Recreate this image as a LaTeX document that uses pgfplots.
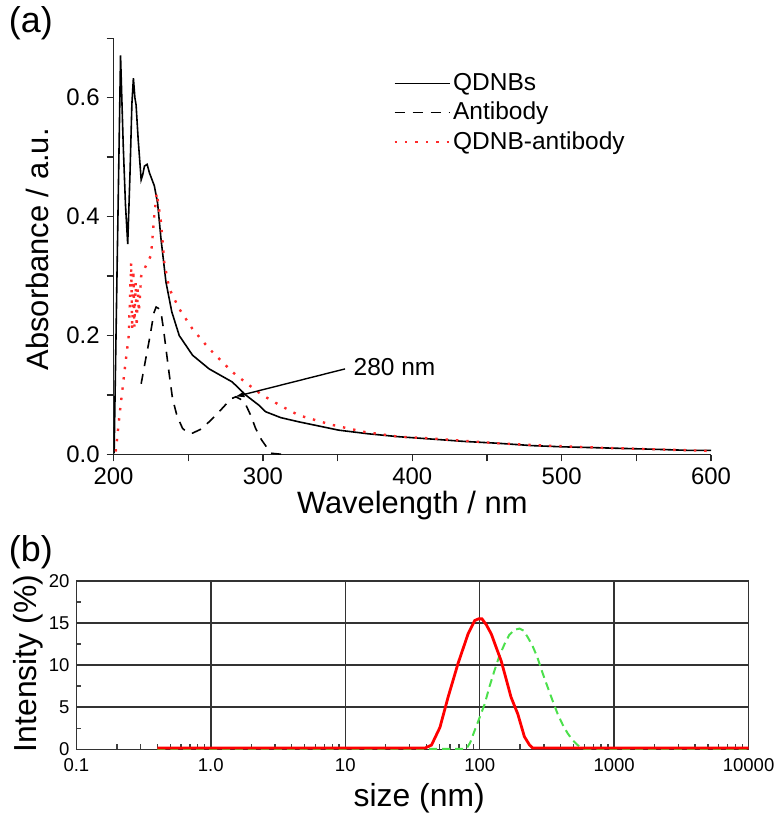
\documentclass[border=0pt]{standalone}
\usepackage{fontspec}
\setmainfont{Liberation Sans}
\usepackage{pgfplots}
\pgfplotsset{compat=1.18}
\usetikzlibrary{arrows.meta}
\definecolor{dotred}{HTML}{FF2A2A}
\definecolor{dlsred}{HTML}{FF0000}
\definecolor{dlsgreen}{HTML}{4CE04C}
\newcommand{\fs}[1]{\fontsize{#1}{1.2\dimexpr#1\relax}\selectfont}

\begin{document}
\begin{tikzpicture}
\path (0,0) rectangle (390.5bp,410.5bp);
\node[font=\fs{18bp}] at (15.5bp,400.5bp) {(a)};
\node[font=\fs{18bp}] at (15.5bp,135bp) {(b)};

% (a) UV-vis absorbance
\begin{axis}[
  at={(57bp,184bp)}, anchor=south west,
  scale only axis, width=300bp, height=209bp,
  xmin=200, xmax=600, ymin=0, ymax=0.7,
  axis lines*=left, axis line style={line width=0.7bp, black!85},
  tick align=outside, tick style={line width=0.7bp, black!85},
  major tick length=3.5bp, minor tick length=3.5bp,
  xtick={200,300,400,500,600}, minor xtick={250,350,450,550},
  ytick={0,0.2,0.4,0.6}, minor ytick={0.1,0.3,0.5,0.7},
  /pgf/number format/assume math mode=true,
  yticklabel style={/pgf/number format/fixed, /pgf/number format/precision=1,
                    /pgf/number format/fixed zerofill},
  tick label style={font=\fs{12bp}},
  xticklabel style={yshift=0.5bp},
  xlabel={Wavelength / nm}, ylabel={Absorbance / a.u.},
  label style={font=\fs{15.5bp}},
  xlabel style={at={(axis description cs:0.5,-0.122)}, anchor=center},
  ylabel style={at={(axis description cs:-0.128,0.493)}, anchor=center},
  legend style={draw=none, fill=none, at={(axis description cs:0.458,0.932)},
                anchor=north west, font=\fs{12.3bp}, nodes={inner sep=1.2bp},
                row sep=2bp},
  legend cell align=left,
  legend image code/.code={\draw[#1] (0bp,0bp) -- (27.5bp,0bp);},
]
\addplot[black, line width=0.8bp] coordinates {
  (200.4,0.002) (202.5,0.33) (204.7,0.671) (206.5,0.52) (208,0.42) (209.5,0.354)
  (211,0.47) (212.3,0.59) (213.3,0.633) (214.3,0.60) (215.1,0.588) (216.5,0.53)
  (218.5,0.462) (219.5,0.47) (220.7,0.485) (222.5,0.488) (224,0.474) (227.3,0.452)
  (229.5,0.423) (231.8,0.362) (235.1,0.29) (239,0.24) (244,0.2) (252.9,0.167)
  (264,0.144) (279.5,0.122) (288.5,0.10) (297.3,0.083) (301.8,0.072) (312,0.062)
  (324,0.055) (350.7,0.041) (370,0.035) (390.7,0.030) (413,0.026) (435,0.022)
  (457,0.019) (480,0.015) (500,0.013) (530,0.011) (560,0.009) (585,0.007) (600,0.007) };
\addlegendentry{QDNBs}
\addplot[black, line width=0.8bp, dash pattern=on 5bp off 4bp] coordinates {
  (218.5,0.119) (221.5,0.16) (224.5,0.2) (227,0.238) (228.5,0.248) (230,0.246)
  (231.8,0.239) (233.5,0.21) (235.1,0.178) (237.3,0.135) (239.5,0.094)
  (242.5,0.065) (246.2,0.044) (249.5,0.037) (252.9,0.036) (258,0.042)
  (264,0.055) (270,0.07) (275.1,0.084) (279,0.094) (281.8,0.097) (285,0.093)
  (288.5,0.084) (292,0.065) (295.1,0.044) (299,0.025) (302.9,0.011)
  (306,0.002) (314,0.0) };
\addlegendentry{Antibody}
\addplot[dotred, line width=1.2bp, dash pattern=on 1.2bp off 4bp] coordinates {
  (201.5,0.005) (204,0.066) (207.3,0.139) (210.2,0.2) (211.8,0.323) (212.5,0.21)
  (213.3,0.31) (214,0.215) (214.8,0.29) (215.5,0.215) (216.2,0.28) (217,0.24)
  (218.5,0.30) (221.8,0.318) (225.1,0.335) (227.3,0.402) (228.9,0.44)
  (231.8,0.39) (234,0.323) (237.3,0.279) (244,0.245) (252.9,0.211)
  (264,0.178) (279.5,0.139) (289,0.12) (299.5,0.10) (312,0.082) (324,0.066)
  (346,0.05) (368,0.038) (390.7,0.030) (413,0.027) (435,0.023) (457,0.019)
  (480,0.016) (500,0.014) (530,0.011) (560,0.009) (600,0.006) };
\addlegendentry{QDNB-antibody}
\draw[line width=0.7bp, -{Latex[length=5bp,width=3bp]}]
  (axis cs:355,0.144) -- (axis cs:281,0.097);
\node[anchor=west, inner sep=0pt, font=\fs{12.3bp}] at (axis cs:360.5,0.147) {280 nm};
\end{axis}

% (b) DLS size distribution
\begin{axis}[
  at={(38.35bp,36bp)}, anchor=south west,
  scale only axis, width=337.5bp, height=84.5bp,
  xmode=log, xmin=0.1, xmax=10000, ymin=0, ymax=20,
  axis line style={line width=0.75bp, black!80},
  xtick={0.1,1,10,100,1000,10000}, xticklabels={0.1,1.0,10,100,1000,10000},
  minor xtick={0.2,0.3,0.4,0.5,0.6,0.7,0.8,0.9,2,3,4,5,6,7,8,9,
               20,30,40,50,60,70,80,90,200,300,400,500,600,700,800,900,
               2000,3000,4000,5000,6000,7000,8000,9000},
  ytick={0,5,10,15,20}, minor ytick={2.5,7.5,12.5,17.5},
  grid=major, major grid style={line width=0.75bp, black!80},
  tick align=inside, xtick pos=bottom, ytick pos=left,
  major tick length=0pt, minor tick length=2.5bp,
  tick style={line width=0.7bp, black!75},
  /pgf/number format/assume math mode=true,
  tick label style={font=\fs{9.3bp}},
  xticklabel style={yshift=-1bp},
  xlabel={size (nm)}, ylabel={Intensity (\%)},
  label style={font=\fs{16bp}},
  xlabel style={at={(axis description cs:0.51,-0.29)}, anchor=center},
  ylabel style={at={(axis description cs:-0.072,0.51)}, anchor=center},
]
\addplot[dlsgreen, line width=1bp, dash pattern=on 4bp off 2.5bp] coordinates {
  (0.4,0.05) (79.6,0.05) (85,0.8) (91.8,2.25) (100,3.8) (109,5.4) (118,7.4)
  (129,9.4) (140,11.1) (153,12.5) (166,13.6) (181.5,14.2) (198,14.35)
  (212,14.1) (228,13.3) (247,12.3) (269,10.9) (293,9.1) (320,7.4)
  (350,5.7) (380,4.2) (415,2.9) (451,1.9) (490,1.1) (535,0.5) (570,0.2)
  (600,0.05) (10000,0.05) };
\addplot[dlsred, line width=1.4bp] coordinates {
  (0.4,0.15) (39.2,0.15) (43.8,0.5) (50.6,2.6) (58.2,6.2) (69,10.2)
  (81.9,13.7) (91.8,15.3) (98,15.5) (104,15.5) (112,14.8) (122,13.7)
  (132,12.2) (144.5,10.5) (157,8.4) (171,6.2) (192,4.2) (215,1.5)
  (235,0.5) (248,0.15) (10000,0.15) };
\end{axis}
\end{tikzpicture}
\end{document}
